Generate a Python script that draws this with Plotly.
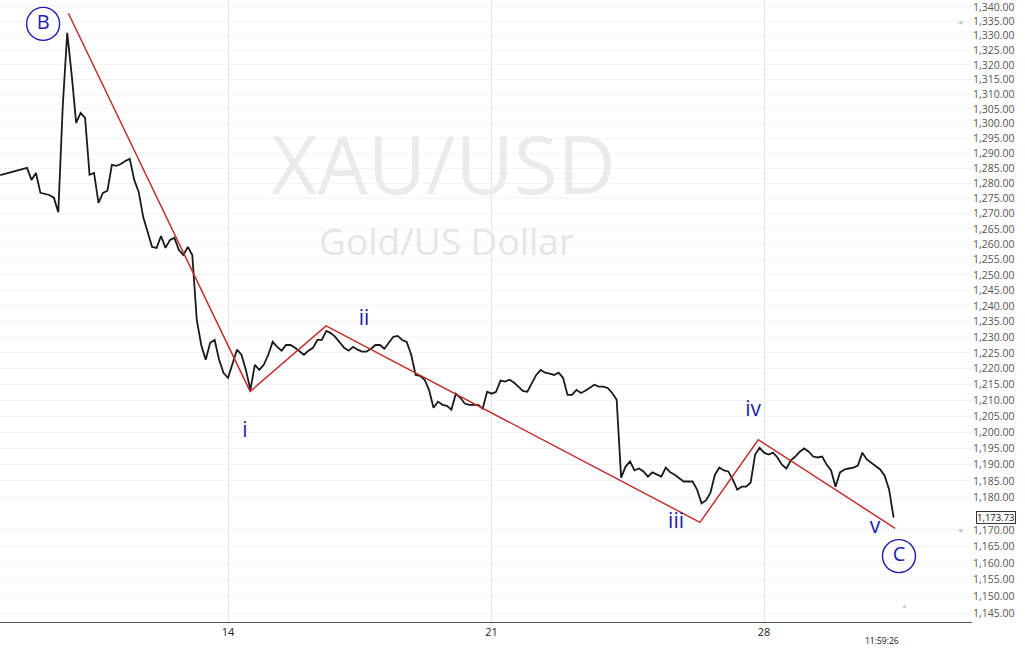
import math
import plotly.graph_objects as go

# ---- data (XAU/USD, 2-hour closes, x = trading hours from Mon 14 00:00) ----
start_hour = -102
step_hours = 2
closes = [
    1282.8, 1283.2, 1283.5, 1283.9, 1284.2, 1284.8, 1285.2, 1281.2, 1283.5, 1276.9,
    1276.6, 1276.2, 1275.3, 1270.5, 1306.0, 1331.0, 1316.6, 1300.3, 1303.7, 1302.0,
    1282.9, 1283.5, 1273.6, 1276.9, 1277.6, 1286.2, 1285.9, 1286.5, 1287.5, 1288.2,
    1281.2, 1277.2, 1269.0, 1264.0, 1259.1, 1258.8, 1262.7, 1258.8, 1261.4, 1262.1,
    1258.1, 1256.5, 1259.1, 1256.5, 1235.5, 1227.5, 1222.8, 1228.2, 1229.1, 1222.8,
    1218.6, 1217.1, 1221.8, 1226.0, 1224.4, 1219.6, 1213.3, 1221.2, 1219.6, 1221.2,
    1224.4, 1228.5, 1226.9, 1225.7, 1227.5, 1227.5, 1226.6, 1225.4, 1224.4, 1225.7,
    1226.6, 1229.1, 1229.1, 1232.0, 1231.3, 1230.1, 1228.5, 1226.6, 1225.7, 1226.9,
    1226.0, 1225.4, 1225.4, 1226.3, 1227.5, 1227.5, 1226.3, 1228.2, 1230.1, 1230.4,
    1229.1, 1228.5, 1224.4, 1218.0, 1217.7, 1216.5, 1213.3, 1207.7, 1209.6, 1208.6,
    1208.3, 1207.1, 1212.1, 1210.8, 1209.0, 1208.6, 1208.6, 1208.6, 1207.4, 1212.7,
    1212.1, 1212.7, 1216.2, 1215.9, 1216.5, 1215.6, 1214.3, 1213.0, 1212.7, 1215.2,
    1218.0, 1219.6, 1218.7, 1218.4, 1218.0, 1218.7, 1217.1, 1211.7, 1211.7, 1213.3,
    1212.3, 1213.0, 1213.9, 1214.9, 1214.3, 1214.3, 1213.9, 1212.3, 1210.2, 1186.0,
    1189.4, 1191.0, 1188.2, 1188.8, 1187.9, 1186.3, 1187.6, 1186.9, 1186.3, 1189.1,
    1187.6, 1186.9, 1185.7, 1184.8, 1184.8, 1184.8, 1182.3, 1178.1, 1179.0, 1181.4,
    1186.9, 1189.1, 1188.2, 1187.9, 1185.4, 1182.3, 1183.2, 1183.2, 1184.5, 1193.1,
    1195.2, 1193.7, 1193.1, 1193.7, 1192.2, 1190.0, 1188.8, 1191.3, 1192.5, 1194.0,
    1195.0, 1194.0, 1192.5, 1192.2, 1192.5, 1190.0, 1188.2, 1183.2, 1187.6, 1188.5,
    1188.8, 1189.1, 1189.7, 1193.7, 1191.6, 1190.6, 1189.4, 1188.5, 1186.6, 1182.3,
    1173.73,
]
hours = [start_hour + step_hours * i for i in range(len(closes))]
last_price = closes[-1]

# Elliott wave pivots
wave_names = ["B", "i", "ii", "iii", "iv", "v"]
wave_hours = [-71.5, 9.9, 43.9, 211.3, 237.4, 298.7]
wave_prices = [1337.8, 1212.8, 1233.6, 1172.3, 1197.7, 1170.5]

# wave labels (text, hour, price)
label_texts = ["i", "ii", "iii", "iv", "v"]
label_hours = [7.6, 60.9, 200.6, 235.1, 289.7]
label_prices = [1200.3, 1235.6, 1172.3, 1206.8, 1170.8]
circle_texts = ["B", "C"]
circle_hours = [-82.8, 300.4]
circle_prices = [1334.1, 1162.1]

# axes
day_labels = ["14", "21", "28"]
day_hours = [0, 118, 240]
price_ticks = [p for p in range(1145, 1345, 5) if p != 1175]
price_ticktext = ["{:,.2f}".format(p) for p in price_ticks]
time_label = "11:59:26"
time_label_hour = 292.8

BLUE = "#1c1cb0"
RED = "#c0302e"

fig = go.Figure()
fig.add_trace(go.Scatter(x=hours, y=closes, mode="lines",
                         line=dict(color="#1a1a1a", width=1.8), hoverinfo="skip"))
fig.add_trace(go.Scatter(x=wave_hours, y=wave_prices, mode="lines",
                         line=dict(color=RED, width=1.5), hoverinfo="skip"))
fig.add_trace(go.Scatter(x=label_hours, y=label_prices, mode="text", text=label_texts,
                         textfont=dict(family="Open Sans", size=21, color=BLUE),
                         textposition="middle center", cliponaxis=False))
fig.add_trace(go.Scatter(x=circle_hours, y=circle_prices, mode="markers+text", text=circle_texts,
                         marker=dict(symbol="circle-open", size=33, color=BLUE,
                                     line=dict(width=1.4, color=BLUE)),
                         textfont=dict(family="Open Sans", size=20, color=BLUE),
                         textposition="middle center", cliponaxis=False))

ann = [
    dict(text="XAU/USD", xref="paper", yref="paper", x=0.4558, y=0.738, showarrow=False,
         yanchor="middle", xanchor="center",
         font=dict(family="Open Sans", size=80, color="#ebebeb")),
    dict(text="Gold/US Dollar", xref="paper", yref="paper", x=0.459, y=0.614, showarrow=False,
         yanchor="middle", xanchor="center",
         font=dict(family="Open Sans", size=37, color="#e6e6e6")),
    dict(text="{:,.2f}".format(last_price), xref="paper", yref="y", x=1.0245,
         y=math.log10(last_price), showarrow=False, xanchor="center", yanchor="middle",
         font=dict(family="Open Sans", size=9.5, color="#111"), height=11,
         bordercolor="#333", borderwidth=1, borderpad=0, bgcolor="white"),
    dict(text=time_label, xref="x", yref="paper", x=time_label_hour, y=-0.03, showarrow=False,
         yanchor="middle", font=dict(family="Open Sans", size=8.5, color="#111")),
    dict(text="◂", xref="paper", yref="y", x=0.993, y=math.log10(1335), showarrow=False,
         font=dict(size=9, color="#c8c8c8")),
    dict(text="◂", xref="paper", yref="y", x=0.993, y=math.log10(1170), showarrow=False,
         font=dict(size=9, color="#c8c8c8")),
    dict(text="▲", xref="paper", yref="paper", x=0.936, y=0.016, showarrow=False,
         font=dict(size=7, color="#d0d0d0")),
]

fig.update_layout(
    width=1025, height=665,
    margin=dict(l=0, r=53, t=0, b=43),
    paper_bgcolor="white", plot_bgcolor="white",
    showlegend=False,
    annotations=ann,
    font=dict(family="Open Sans"),
    xaxis=dict(range=[-102.1, 333.1], tickvals=day_hours, ticktext=day_labels,
               showgrid=True, gridcolor="#e4e4e4", gridwidth=1, zeroline=False,
               showline=True, linecolor="#555", linewidth=1, ticks="",
               tickfont=dict(family="Open Sans", size=11, color="#222")),
    yaxis=dict(type="log", side="right",
               range=[math.log10(1142.4), math.log10(1342.4)],
               tickvals=price_ticks, ticktext=price_ticktext, ticklabeloverflow="allow",
               showgrid=True, gridcolor="#f4f4f4", zeroline=False, showline=False,
               ticks="", tickfont=dict(family="Open Sans", size=10.5, color="#555")),
)

fig.write_html("out.html", config={"displayModeBar": False},
               post_script="document.body.style.margin='0';document.body.style.overflow='hidden';")
